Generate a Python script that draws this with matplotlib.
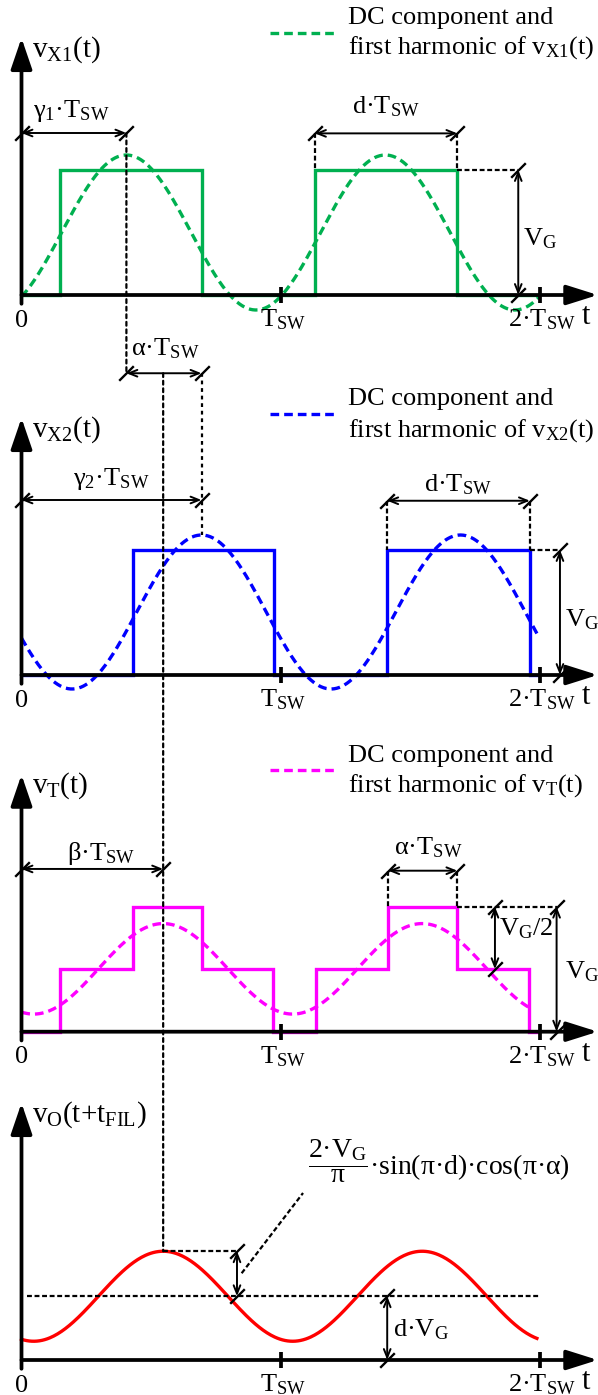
import numpy as np
import matplotlib.pyplot as plt
from matplotlib.patches import ConnectionPatch
from matplotlib.path import Path

plt.rcParams['font.family'] = ['Liberation Serif', 'DejaVu Serif']
plt.rcParams['mathtext.fontset'] = 'custom'
plt.rcParams['mathtext.rm'] = 'Liberation Serif'
plt.rcParams['mathtext.it'] = 'Liberation Serif'
plt.rcParams['mathtext.bf'] = 'Liberation Serif'
plt.rcParams['font.size'] = 19

## Waveform data (time in units of T_SW, voltage in units of V_G)
vx1_edges = [0, 0.149, 0.696, 1.133, 1.683, 2.0]
vx1_levels = [0, 1, 0, 1, 0]
vx2_edges = [0, 0.429, 0.975, 1.412, 1.963, 2.0]
vx2_levels = [0, 1, 0, 1, 0]
vt_edges = [0, 0.149, 0.429, 0.696, 0.972, 1.137, 1.416, 1.683, 1.961, 2.0]
vt_levels = [0, 0.5, 1, 0.5, 0, 0.5, 1, 0.5, 0]

# DC component + first harmonic: dc, amplitude, time of peak, end time
h_vx1 = (0.50, 0.62, 0.405, 2.0)
h_vx2 = (0.504, 0.616, 0.695, 1.99)
h_vt = (0.503, 0.362, 0.547, 1.963)
h_vo = (0.51, 0.36, 0.547, 1.99)

gamma1 = 0.405
gamma2 = 0.695
beta = 0.547
ticks = [1, 2]
tick_labels = ['T$_{SW}$', '2·T$_{SW}$']

GREEN, BLUE, MAG, RED = '#00B050', '#0000FF', '#FF00FF', '#FF0000'

# layout (pixels)
W, H = 598, 1395
px_T, px_V, x0 = 259.0, 125.0, 21.5
bases = [295, 675, 1031.7, 1360]

DOT = (0, (1.7, 1.7))
DASH = (0, (2.2, 1.2))
WDASH = (0, (2.6, 1.5))
LW_AUX = 1.6
slash = Path([(-1, -1), (1, 1)], [Path.MOVETO, Path.LINETO])

fig = plt.figure(figsize=(W / 100, H / 100), dpi=100)
axes = []
for i, b in enumerate(bases):
    ax = fig.add_axes([0, 0, 1, 1], label='p%d' % i)
    ax.set_xlim(-x0 / px_T, (W - x0) / px_T)
    ax.set_ylim((b - H) / px_V, b / px_V)
    ax.axis('off')
    axes.append(ax)


def harmonic(p):
    dc, amp, tpk, tend = p
    t = np.linspace(0, tend, 400)
    return t, dc + amp * np.cos(2 * np.pi * (t - tpk))


def frame(ax, ylabel):
    ax.annotate('', xy=(2.225, 0), xytext=(0, 0),
                arrowprops=dict(arrowstyle='-|>,head_length=1.9,head_width=0.6', lw=2.7,
                                color='k', shrinkA=0, shrinkB=0, mutation_scale=10), zorder=5)
    ax.annotate('', xy=(0, 2.056), xytext=(0, -0.07),
                arrowprops=dict(arrowstyle='-|>,head_length=1.9,head_width=0.65', lw=2.7,
                                color='k', shrinkA=0, shrinkB=0, mutation_scale=10), zorder=5)
    ax.plot(ticks, [0, 0], ls='none', marker='|', ms=12, mew=2.7, color='k', zorder=5)
    ax.text(0, -0.253, '0', ha='center', va='baseline')
    for tx, tl in zip(ticks, tick_labels):
        ax.text(tx + 0.01, -0.253, tl, ha='center', va='baseline')
    ax.text(2.178, -0.235, 't', ha='center', va='baseline', fontsize=22)
    ax.text(0.039, 1.91, ylabel, ha='left', va='baseline', fontsize=21)


def dim(ax, p1, p2):
    ax.annotate('', xy=p2, xytext=p1,
                arrowprops=dict(arrowstyle='<->,head_length=0.5,head_width=0.2', lw=1.4,
                                color='k', shrinkA=0, shrinkB=0, mutation_scale=12))
    ax.plot([p1[0], p2[0]], [p1[1], p2[1]], ls='none', marker=slash, ms=10.5,
            mew=1.7, color='k')


def aux(ax, xs, ys, ls=DASH):
    ax.plot(xs, ys, color='k', lw=LW_AUX, ls=ls)


def legend(ax, color, dash_y, y1, y2, name):
    ax.plot([0.959, 1.222], [dash_y, dash_y], color=color, lw=2.4, ls=WDASH)
    ax.text(1.261, y1, 'DC component and', ha='left', va='baseline')
    ax.text(1.261, y2, 'first harmonic of ' + name, ha='left', va='baseline')


# panel 1: v_X1
ax = axes[0]
ax.stairs(vx1_levels, vx1_edges, baseline=None, color=GREEN, lw=2.4)
t, v = harmonic(h_vx1)
ax.plot(t, v, color=GREEN, lw=2.4, ls=WDASH)
frame(ax, 'v$_{X1}$(t)')
legend(ax, GREEN, 2.10, 2.168, 1.932, 'v$_{X1}$(t)')
dim(ax, (0, 1.296), (gamma1, 1.296))
ax.text(0.194, 1.426, 'γ$_1$·T$_{SW}$', ha='center', va='baseline')
dim(ax, (vx1_edges[3], 1.293), (vx1_edges[4], 1.293))
ax.text(1.409, 1.453, 'd·T$_{SW}$', ha='center', va='baseline')
for e in vx1_edges[3:5]:
    aux(ax, [e, e], [1.293, 1.0])
aux(ax, [vx1_edges[4], 1.918], [1, 1])
dim(ax, (1.918, 0), (1.918, 1))
ax.text(1.937, 0.40, 'V$_G$', ha='left', va='baseline')

# panel 2: v_X2
ax = axes[1]
ax.stairs(vx2_levels, vx2_edges, baseline=None, color=BLUE, lw=2.4)
t, v = harmonic(h_vx2)
ax.plot(t, v, color=BLUE, lw=2.4, ls=WDASH)
frame(ax, 'v$_{X2}$(t)')
legend(ax, BLUE, 2.088, 2.16, 1.907, 'v$_{X2}$(t)')
dim(ax, (gamma1, 2.414), (gamma2, 2.414))
ax.text(0.554, 2.56, 'α·T$_{SW}$', ha='center', va='baseline')
dim(ax, (0, 1.40), (gamma2, 1.40))
ax.text(0.345, 1.52, 'γ$_2$·T$_{SW}$', ha='center', va='baseline')
aux(ax, [gamma2, gamma2], [2.414, h_vx2[0] + h_vx2[1]], DOT)
dim(ax, (vx2_edges[3], 1.394), (vx2_edges[4], 1.394))
ax.text(1.685, 1.467, 'd·T$_{SW}$', ha='center', va='baseline')
for e in vx2_edges[3:5]:
    aux(ax, [e, e], [1.394, 1.0])
aux(ax, [vx2_edges[4], 2.079], [1, 1])
dim(ax, (2.079, 0), (2.079, 1))
ax.text(2.098, 0.387, 'V$_G$', ha='left', va='baseline')

# panel 3: v_T
ax = axes[2]
ax.stairs(vt_levels, vt_edges, baseline=None, color=MAG, lw=2.4)
t, v = harmonic(h_vt)
ax.plot(t, v, color=MAG, lw=2.4, ls=WDASH)
frame(ax, 'v$_T$(t)')
legend(ax, MAG, 2.094, 2.16, 1.92, 'v$_T$(t)')
dim(ax, (0, 1.302), (beta, 1.302))
ax.text(0.309, 1.374, 'β·T$_{SW}$', ha='center', va='baseline')
dim(ax, (vt_edges[6], 1.288), (vt_edges[7], 1.288))
ax.text(1.57, 1.42, 'α·T$_{SW}$', ha='center', va='baseline')
for e in vt_edges[6:8]:
    aux(ax, [e, e], [1.288, 1.0])
aux(ax, [vt_edges[7], 2.066], [1, 1])
dim(ax, (1.828, 0.5), (1.828, 1))
ax.text(1.844, 0.774, 'V$_G$/2', ha='left', va='baseline')
dim(ax, (2.066, 0), (2.066, 1))
ax.text(2.098, 0.43, 'V$_G$', ha='left', va='baseline')

# panel 4: v_O
ax = axes[3]
t, v = harmonic(h_vo)
ax.plot(t, v, color=RED, lw=2.4)
frame(ax, 'v$_O$(t+t$_{FIL}$)')
vo_dc, vo_peak = h_vo[0], h_vo[0] + h_vo[1]
aux(ax, [0.02, 2.0], [vo_dc, vo_dc])
aux(ax, [beta, 0.832], [vo_peak, vo_peak])
dim(ax, (0.832, vo_dc), (0.832, vo_peak))
aux(ax, [0.85, 1.087], [0.694, 1.336])
ax.text(1.106, 1.48, r'$\dfrac{2·V_G}{\pi}$·sin(π·d)·cos(π·α)', ha='left', va='baseline',
        fontsize=20)
dim(ax, (1.412, 0), (1.412, vo_dc))
ax.text(1.436, 0.186, 'd·V$_G$', ha='left', va='baseline')

# dotted lines crossing panels
for xa, ya, axa, yb, axb in [(gamma1, 1.296, axes[0], 2.414, axes[1]),
                             (beta, 2.414, axes[1], vo_peak, axes[3])]:
    con = ConnectionPatch(xyA=(xa, ya), coordsA=axa.transData,
                          xyB=(xa, yb), coordsB=axb.transData,
                          color='k', lw=LW_AUX, ls=DOT)
    fig.add_artist(con)

fig.savefig('out.png', dpi=100)
